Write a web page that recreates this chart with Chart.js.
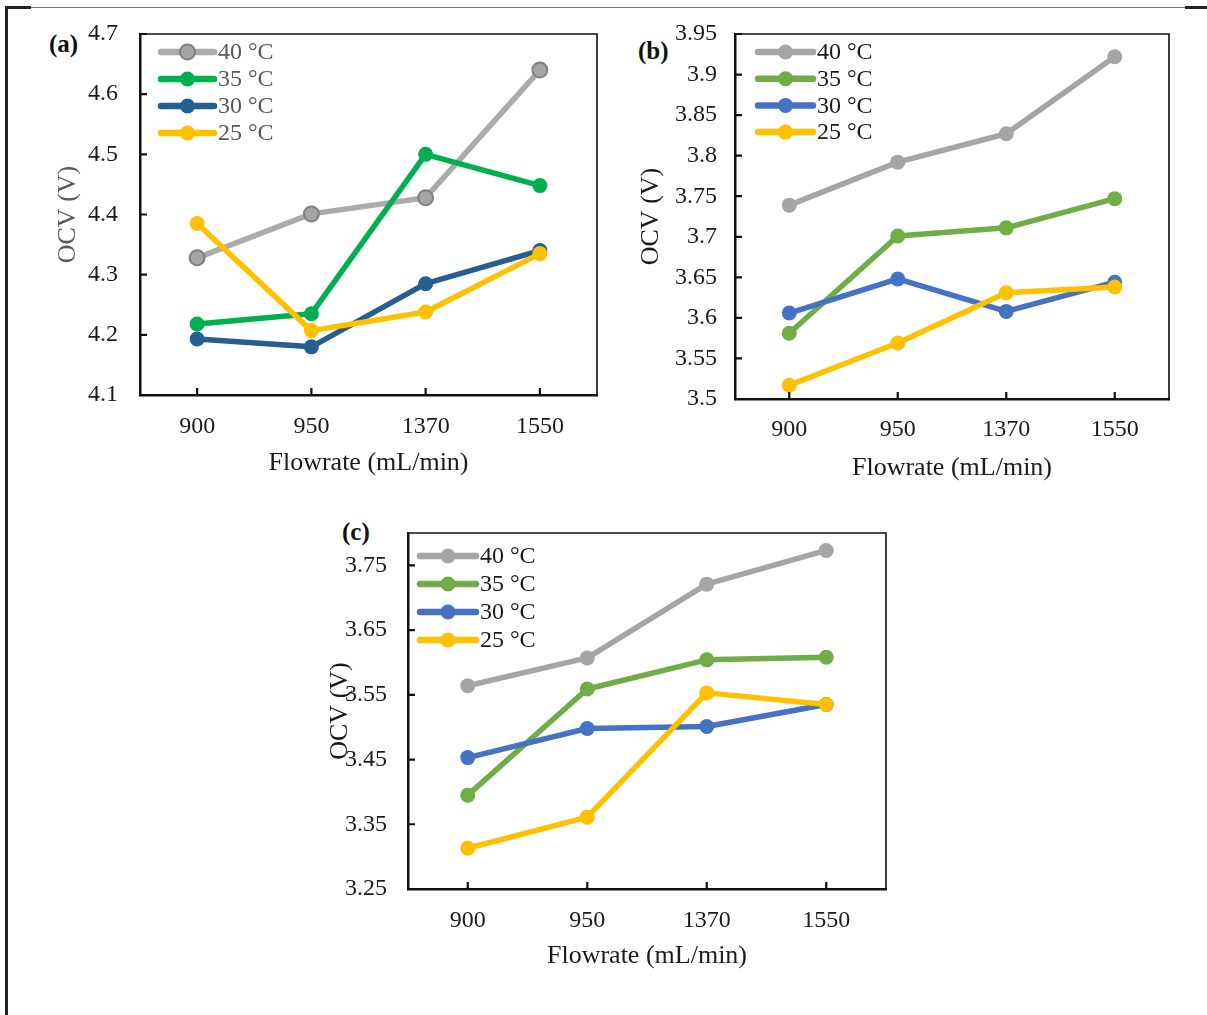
<!DOCTYPE html>
<html>
<head>
<meta charset="utf-8">
<script src="https://cdn.jsdelivr.net/npm/chart.js@4.4.0/dist/chart.umd.min.js"></script>
<style>
body{margin:0;background:#fff;width:1207px;height:1015px;position:relative;overflow:hidden;font-family:"Liberation Serif","Times New Roman",serif}
canvas{position:absolute}
.lbl{position:absolute;font-weight:bold;font-size:25px;line-height:1;color:#111}
.frame{position:absolute;background:#222}
</style>
</head>
<body>
<div class="frame" style="left:5px;top:6px;width:3px;height:1009px"></div>
<div class="frame" style="left:5px;top:6px;width:26px;height:3px"></div>
<div class="frame" style="left:31px;top:7px;width:1155px;height:1px;background:#777"></div>
<div class="frame" style="left:1185px;top:6px;width:22px;height:3px"></div>

<div class="lbl" style="left:49px;top:31px">(a)</div>
<div class="lbl" style="left:638px;top:38px">(b)</div>
<div class="lbl" style="left:342px;top:519px">(c)</div>

<canvas id="chartA" width="620" height="480" style="left:0;top:0"></canvas>
<canvas id="chartB" width="587" height="485" style="left:620px;top:0"></canvas>
<canvas id="chartC" width="620" height="475" style="left:300px;top:500px"></canvas>

<script>
// x categories (flowrate, mL/min)
var flowrates = ['900', '950', '1370', '1550'];
var tempNames = ['40 °C', '35 °C', '30 °C', '25 °C'];

// (a) OCV values
var ocvA40 = [4.328, 4.401, 4.428, 4.640];
var ocvA35 = [4.218, 4.235, 4.500, 4.448];
var ocvA30 = [4.193, 4.180, 4.285, 4.340];
var ocvA25 = [4.385, 4.207, 4.238, 4.335];
var yTicksA = [4.1, 4.2, 4.3, 4.4, 4.5, 4.6, 4.7];

// (b)
var ocvB40 = [3.739, 3.792, 3.827, 3.922];
var ocvB35 = [3.581, 3.701, 3.711, 3.747];
var ocvB30 = [3.606, 3.648, 3.608, 3.644];
var ocvB25 = [3.517, 3.569, 3.631, 3.638];
var yTicksB = [3.5, 3.55, 3.6, 3.65, 3.7, 3.75, 3.8, 3.85, 3.9, 3.95];

// (c)
var ocvC40 = [3.564, 3.607, 3.721, 3.773];
var ocvC35 = [3.395, 3.559, 3.604, 3.608];
var ocvC30 = [3.453, 3.498, 3.501, 3.535];
var ocvC25 = [3.313, 3.361, 3.553, 3.535];
var yTicksC = [3.25, 3.35, 3.45, 3.55, 3.65, 3.75];

var colorsA = ['#ABABAB', '#00B050', '#255E91', '#FFC000'];
var colorsBC = ['#A5A5A5', '#70AD47', '#4472C4', '#FFC000'];

var FONT = '"Liberation Serif", "Times New Roman", serif';

// box + inward tick marks, like the excel originals
var frameTicks = {
    id: 'frameTicks',
    afterDraw: function(chart) {
        var ctx = chart.ctx, a = chart.chartArea;
        var xs = chart.scales.x, ys = chart.scales.y;
        ctx.save();
        ctx.strokeStyle = '#111';
        ctx.lineWidth = 1.6;
        ctx.beginPath();
        ctx.moveTo(a.left, a.top); ctx.lineTo(a.right, a.top); ctx.lineTo(a.right, a.bottom);
        ctx.stroke();
        ctx.lineWidth = 2.2;
        ctx.beginPath();
        ys.ticks.forEach(function(t) {
            var py = ys.getPixelForValue(t.value);
            ctx.moveTo(a.left, py); ctx.lineTo(a.left + 7, py);
        });
        xs.ticks.forEach(function(t, i) {
            var px = xs.getPixelForTick(i);
            ctx.moveTo(px, a.bottom); ctx.lineTo(px, a.bottom - 7);
        });
        ctx.stroke();
        ctx.restore();
    }
};

// legend drawn as line + marker + label inside the plot
var lineLegend = {
    id: 'lineLegend',
    afterDraw: function(chart, args, o) {
        var ctx = chart.ctx, a = chart.chartArea;
        ctx.save();
        chart.data.datasets.forEach(function(ds, i) {
            var y = a.top + o.y + i * o.gap;
            var x0 = a.left + o.x, x1 = x0 + o.len;
            ctx.strokeStyle = ds.borderColor;
            ctx.lineWidth = 6.5;
            ctx.lineCap = 'round';
            ctx.beginPath(); ctx.moveTo(x0, y); ctx.lineTo(x1, y); ctx.stroke();
            ctx.beginPath();
            ctx.arc((x0 + x1) / 2, y, ds.pointRadius, 0, Math.PI * 2);
            ctx.fillStyle = ds.pointBackgroundColor;
            ctx.fill();
            if (ds.pointBorderWidth) {
                ctx.lineWidth = ds.pointBorderWidth;
                ctx.strokeStyle = ds.pointBorderColor;
                ctx.stroke();
            }
            ctx.fillStyle = o.color;
            ctx.font = '24px ' + FONT;
            ctx.textBaseline = 'middle';
            ctx.textAlign = 'left';
            ctx.fillText(ds.label, x1 + 4, y + 1);
        });
        ctx.restore();
    }
};

function makeSet(label, data, color, order, edge) {
    return {
        label: label,
        data: data,
        borderColor: color,
        backgroundColor: color,
        borderWidth: 5.5,
        borderJoinStyle: 'round',
        borderCapStyle: 'round',
        pointRadius: 7.5,
        pointHoverRadius: 7.5,
        pointBackgroundColor: edge ? '#A5A5A5' : color,
        pointBorderColor: edge ? '#7F7F7F' : color,
        pointBorderWidth: edge ? 2 : 0,
        order: order,
        tension: 0
    };
}

function makeChart(id, s) {
    var ctx = document.getElementById(id).getContext('2d');
    return new Chart(ctx, {
        type: 'line',
        data: {
            labels: flowrates,
            datasets: [
                makeSet(tempNames[0], s.data[0], s.colors[0], 3, s.edge),
                makeSet(tempNames[1], s.data[1], s.colors[1], 2, false),
                makeSet(tempNames[2], s.data[2], s.colors[2], 1, false),
                makeSet(tempNames[3], s.data[3], s.colors[3], 0, false)
            ]
        },
        options: {
            responsive: false,
            animation: false,
            devicePixelRatio: 1,
            layout: {padding: s.padding},
            plugins: {
                legend: {display: false},
                tooltip: {enabled: false},
                lineLegend: s.legend
            },
            scales: {
                x: {
                    offset: true,
                    grid: {display: false},
                    border: {display: true, color: '#111', width: 2.5},
                    ticks: {color: '#1a1a1a', font: {family: FONT, size: 24}, padding: s.xPad, maxRotation: 0},
                    title: {display: true, text: 'Flowrate (mL/min)', color: '#1a1a1a', font: {family: FONT, size: 26}, padding: 0},
                    afterFit: function(sc) { sc.height = s.xHeight; }
                },
                y: {
                    min: s.ymin,
                    max: s.ymax,
                    grid: {display: false},
                    border: {display: true, color: '#111', width: 2.5},
                    afterBuildTicks: function(sc) {
                        sc.ticks = s.yTicks.map(function(v) { return {value: v}; });
                    },
                    ticks: {
                        color: '#1a1a1a', font: {family: FONT, size: 24}, padding: s.yPad,
                        callback: function(v) { return String(v); }
                    },
                    title: {display: true, text: 'OCV (V)', color: s.yTitleColor, font: {family: FONT, size: 26}, padding: 0},
                    afterFit: function(sc) { sc.width = s.yWidth; }
                }
            }
        },
        plugins: [frameTicks, lineLegend]
    });
}

makeChart('chartA', {
    data: [ocvA40, ocvA35, ocvA30, ocvA25],
    colors: colorsA, edge: true,
    padding: {left: 53, top: 34, right: 23, bottom: 1},
    yWidth: 87, xHeight: 84, yPad: 14, xPad: 9,
    ymin: 4.1, ymax: 4.7, yTicks: yTicksA,
    yTitleColor: '#595959',
    legend: {x: 21, y: 18, gap: 27, len: 53, color: '#595959'}
});

makeChart('chartB', {
    data: [ocvB40, ocvB35, ocvB30, ocvB25],
    colors: colorsBC, edge: false,
    padding: {left: 16, top: 34, right: 38, bottom: 1},
    yWidth: 99, xHeight: 85, yPad: 10, xPad: 8,
    ymin: 3.5, ymax: 3.95, yTicks: yTicksB,
    yTitleColor: '#1a1a1a',
    legend: {x: 23, y: 18, gap: 26.7, len: 55, color: '#1a1a1a'}
});

makeChart('chartC', {
    data: [ocvC40, ocvC35, ocvC30, ocvC25],
    colors: colorsBC, edge: false,
    padding: {left: 25, top: 33, right: 34, bottom: 3},
    yWidth: 83, xHeight: 83, yPad: 13, xPad: 9,
    ymin: 3.25, ymax: 3.8, yTicks: yTicksC,
    yTitleColor: '#1a1a1a',
    legend: {x: 12, y: 23, gap: 28, len: 56, color: '#1a1a1a'}
});
</script>
</body>
</html>
